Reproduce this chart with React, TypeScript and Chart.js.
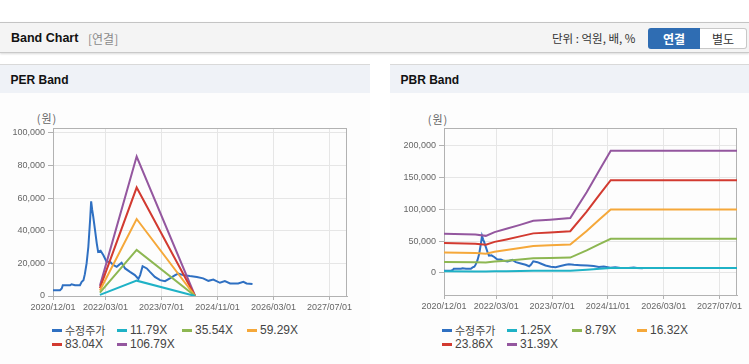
import React, { useEffect, useRef } from 'react';
import { Chart, registerables } from 'chart.js';

Chart.register(...registerables);

// ---------- data ----------
const xTickMonths = [0, 15, 31, 47, 63, 79]; // months since 2020/12
const xTickLabels = ['2020/12/01', '2022/03/01', '2023/07/01', '2024/11/01', '2026/03/01', '2027/07/01'];
const xMaxMonth = 84;

const priceMonths = [0, 2, 2.5, 2.8, 4.9, 5.3, 6.3, 7.7, 8.2, 8.7, 9.1, 9.6, 10.1, 10.6, 10.9, 11.2, 11.5, 12, 12.5, 12.9, 13.6, 14.4, 15.3, 16.3, 17.2, 18.2, 19.6, 20.6, 22, 23.4, 24.4, 24.9, 25.6, 26.8, 27.7, 29.1, 30.6, 32, 33.4, 34.9, 35.8, 37.2, 39.1, 41.1, 42.9, 44.4, 45.8, 47.7, 49.1, 50.6, 52.9, 54.4, 55.3, 57];
const priceValues = [3600, 3600, 4600, 6600, 6600, 7200, 6600, 6600, 8700, 9700, 13400, 20000, 30200, 46600, 58000, 52800, 48600, 40500, 32300, 27100, 27700, 25000, 21000, 21000, 19000, 17900, 20400, 16900, 14800, 12800, 10500, 12800, 18300, 16900, 14800, 11700, 9700, 9100, 10800, 12800, 13800, 12800, 12200, 11700, 10800, 9300, 10100, 8100, 9100, 7700, 7700, 8700, 7700, 7300];

const perBandMonths = [13.4, 23.9, 40.6];
const perBandLabels = ['11.79X', '35.54X', '59.29X', '83.04X', '106.79X'];
const per1179 = [700, 9400, 0];
const per3554 = [2100, 28300, 0];
const per5929 = [3400, 47200, 0];
const per8304 = [4800, 66500, 0];
const per10679 = [6200, 85500, 0];

const pbrBandMonths = [0, 9, 12, 14.5, 17.9, 21.8, 25.6, 30.4, 36.2, 40.9, 44.7, 47.8, 84];
const pbrBandLabels = ['1.25X', '8.79X', '16.32X', '23.86X', '31.39X'];
const pbr125 = [2500, 2400, 2300, 2600, 2800, 3000, 3300, 3300, 3400, 5000, 6500, 7600, 7600];
const pbr879 = [17200, 16900, 16300, 17900, 19300, 21100, 22900, 23400, 24100, 35400, 45400, 53500, 53500];
const pbr1632 = [32000, 31300, 30200, 33300, 35900, 39200, 42400, 43400, 44700, 65800, 84400, 99400, 99400];
const pbr2386 = [46800, 45800, 44100, 48700, 52500, 57300, 62000, 63500, 65400, 96200, 123400, 145300, 145300];
const pbr3139 = [61500, 60300, 58100, 64000, 69100, 75300, 81600, 83500, 86000, 126500, 162300, 191200, 191200];

const perYTicks = [0, 20000, 40000, 60000, 80000, 100000];
const pbrYTicks = [0, 50000, 100000, 150000, 200000];

const priceLabel = '수정주가';
const colors = ['#2f70c2', '#1fb2c6', '#8db752', '#f5a83a', '#d23a30', '#94579f'];

// ---------- helpers ----------
const toPts = (xs: number[], ys: number[]) => xs.map((x, i) => ({ x, y: ys[i] }));

const boxPlugin = {
  id: 'plotBox',
  beforeDatasetsDraw(chart: any) {
    const { ctx, chartArea: a } = chart;
    ctx.save();
    ctx.strokeStyle = '#b2b2b2';
    ctx.lineWidth = 1;
    ctx.strokeRect(Math.round(a.left) + 0.5, Math.round(a.top) + 0.5, Math.round(a.right) - Math.round(a.left) - 1, Math.round(a.bottom) - Math.round(a.top));
    ctx.restore();
  },
};

const tickFont = { family: '"Liberation Sans", Arial, sans-serif', size: 9 };

type BandProps = {
  left: number; top: number; width: number; height: number;
  yAxisWidth: number; padTop: number; padRight: number; xAxisHeight: number;
  yMin: number; yMax: number; yTicks: number[];
  bandMonths: number[]; bands: number[][]; bandLabels: string[];
};

function BandChart(p: BandProps) {
  const ref = useRef<HTMLCanvasElement>(null);
  useEffect(() => {
    const datasets: any[] = [
      {
        label: priceLabel,
        data: toPts(priceMonths, priceValues),
        borderColor: colors[0],
        backgroundColor: colors[0],
        order: 1,
      },
      ...p.bands.map((b, i) => ({
        label: p.bandLabels[i],
        data: toPts(p.bandMonths, b),
        borderColor: colors[i + 1],
        backgroundColor: colors[i + 1],
        order: 0,
      })),
    ];
    const chart = new Chart(ref.current as HTMLCanvasElement, {
      type: 'line',
      data: { datasets },
      options: {
        animation: false,
        responsive: false,
        devicePixelRatio: 1,
        parsing: false as any,
        layout: { padding: { top: p.padTop, right: p.padRight, left: 0, bottom: 0 } },
        plugins: { legend: { display: false }, tooltip: { enabled: false } },
        elements: { point: { radius: 0 }, line: { borderWidth: 2, tension: 0 } },
        scales: {
          x: {
            type: 'linear',
            min: 0,
            max: xMaxMonth,
            afterBuildTicks: (s: any) => { s.ticks = xTickMonths.map((v) => ({ value: v })); },
            afterFit: (s: any) => { s.height = p.xAxisHeight; },
            ticks: {
              autoSkip: false,
              maxRotation: 0,
              minRotation: 0,
              padding: 2,
              color: '#666',
              font: tickFont,
              callback: (v: any) => xTickLabels[xTickMonths.indexOf(Number(v))] ?? '',
            },
            grid: { color: '#e6e6e6', tickColor: '#b2b2b2', tickLength: 4 },
            border: { color: '#b2b2b2' },
          },
          y: {
            type: 'linear',
            min: p.yMin,
            max: p.yMax,
            afterBuildTicks: (s: any) => { s.ticks = p.yTicks.map((v) => ({ value: v })); },
            afterFit: (s: any) => { s.width = p.yAxisWidth; },
            ticks: {
              padding: 3,
              color: '#666',
              font: tickFont,
              callback: (v: any) => Number(v).toLocaleString('en-US'),
            },
            grid: { color: '#e6e6e6', tickColor: '#b2b2b2', tickLength: 5 },
            border: { color: '#b2b2b2' },
          },
        },
      } as any,
      plugins: [boxPlugin],
    });
    return () => chart.destroy();
  }, []);
  return (
    <canvas
      ref={ref}
      width={p.width}
      height={p.height}
      style={{ position: 'absolute', left: p.left, top: p.top, width: p.width, height: p.height }}
    />
  );
}

function Legend({ left, top, labels }: { left: number; top: number; labels: string[] }) {
  return (
    <>
      {labels.map((lab, i) => {
        const col = i % 4;
        const row = Math.floor(i / 4);
        const isKo = i === 0;
        return (
          <div
            key={lab}
            style={{
              position: 'absolute',
              left: left + col * 65,
              top: top + row * 14,
              height: 14,
              display: 'flex',
              alignItems: 'center',
              whiteSpace: 'nowrap',
              color: '#444',
              fontFamily: '"Liberation Sans", Arial, "Noto Sans CJK KR", sans-serif',
              fontSize: isKo ? 11 : 12,
            }}
          >
            <span style={{ display: 'inline-block', width: 10, height: 3, background: colors[i], marginRight: 3 }} />
            <span style={isKo ? { fontFamily: '"Noto Sans CJK KR", sans-serif', fontSize: 11 } : {}}>{lab}</span>
          </div>
        );
      })}
    </>
  );
}

const sans = '"Liberation Sans", Arial, "Noto Sans CJK KR", sans-serif';

function Panel({ left, width, title }: { left: number; width: number; title: string }) {
  return (
    <div style={{ position: 'absolute', left, top: 64, width, height: 299, background: '#fdfdfd', borderTop: '1px solid #d9d9d9', borderBottom: '1px solid #d9d9d9' }}>
      <div style={{ position: 'absolute', left: 0, top: 0, width, height: 28, background: '#eff2f7' }}>
        <div style={{ position: 'absolute', left: 10.5, top: 0, lineHeight: '30px', fontFamily: sans, fontWeight: 'bold', fontSize: 12, color: '#111' }}>{title}</div>
      </div>
    </div>
  );
}

export default function App() {
  return (
    <div style={{ position: 'absolute', left: 0, top: 0, width: 749, height: 364, overflow: 'hidden', background: '#fff', fontFamily: sans }}>
      {/* top header */}
      <div style={{ position: 'absolute', left: 0, top: 22, width: 749, height: 29, background: '#f4f4f4', borderTop: '1px solid #c4c4c4', borderBottom: '1px solid #c9c9c9', boxShadow: '0 1px 2px rgba(0,0,0,0.15)' }}>
        <div style={{ position: 'absolute', left: 11, top: 0, lineHeight: '31px', fontWeight: 'bold', fontSize: 12.5, color: '#111' }}>Band Chart</div>
        <div style={{ position: 'absolute', left: 88, top: 0, lineHeight: '31px', fontSize: 12, color: '#8a8a8a', fontFamily: '"Noto Sans CJK KR", sans-serif' }}>[연결]</div>
        <div style={{ position: 'absolute', left: 552, top: 0, lineHeight: '31px', fontSize: 11.5, color: '#333', fontFamily: '"Noto Sans CJK KR", sans-serif' }}>단위 : 억원, 배, %</div>
        <div style={{ position: 'absolute', left: 648, top: 5, width: 52, height: 21, background: '#2f6db3', borderRadius: '3px 0 0 3px', color: '#fff', fontWeight: 'bold', fontSize: 12, lineHeight: '21px', textAlign: 'center', fontFamily: '"Noto Sans CJK KR", sans-serif' }}>연결</div>
        <div style={{ position: 'absolute', left: 700, top: 5, width: 46, height: 19, background: '#fff', border: '1px solid #c8c8c8', borderLeft: 'none', borderRadius: '0 3px 3px 0', color: '#333', fontSize: 12, lineHeight: '19px', textAlign: 'center', fontFamily: '"Noto Sans CJK KR", sans-serif' }}>별도</div>
      </div>

      <Panel left={0} width={370} title="PER Band" />
      <Panel left={390} width={359} title="PBR Band" />

      <div style={{ position: 'absolute', left: 27, top: 110, width: 40, textAlign: 'center', fontSize: 11, color: '#666', letterSpacing: 1, fontFamily: '"Noto Sans CJK KR", sans-serif' }}>(원)</div>
      <div style={{ position: 'absolute', left: 418, top: 111, width: 40, textAlign: 'center', fontSize: 11, color: '#666', letterSpacing: 1, fontFamily: '"Noto Sans CJK KR", sans-serif' }}>(원)</div>

      <BandChart
        left={0} top={100} width={370} height={222}
        yAxisWidth={53} padTop={28} padRight={23} xAxisHeight={26}
        yMin={0} yMax={103000} yTicks={perYTicks}
        bandMonths={perBandMonths}
        bands={[per1179, per3554, per5929, per8304, per10679]}
        bandLabels={perBandLabels}
      />
      <BandChart
        left={390} top={100} width={359} height={222}
        yAxisWidth={54} padTop={28} padRight={12} xAxisHeight={27}
        yMin={-34500} yMax={227000} yTicks={pbrYTicks}
        bandMonths={pbrBandMonths}
        bands={[pbr125, pbr879, pbr1632, pbr2386, pbr3139]}
        bandLabels={pbrBandLabels}
      />

      <Legend left={52} top={323} labels={[priceLabel, ...perBandLabels]} />
      <Legend left={442} top={323} labels={[priceLabel, ...pbrBandLabels]} />
    </div>
  );
}
